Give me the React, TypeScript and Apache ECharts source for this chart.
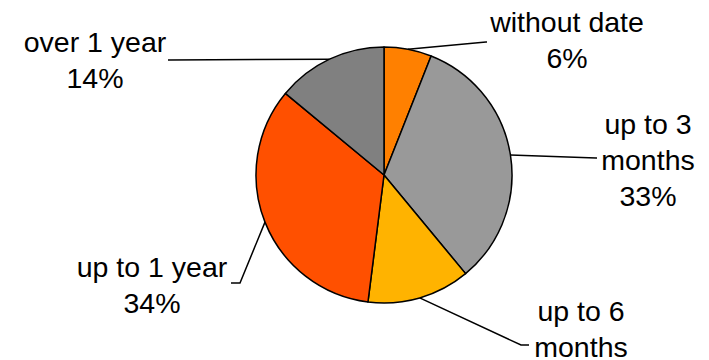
import React, { useEffect, useRef } from "react";
import * as echarts from "echarts";

const categories = ["without date", "up to 3 months", "up to 6 months", "up to 1 year", "over 1 year"];
const labelTexts = ["without date", "up to 3\nmonths", "up to 6\nmonths", "up to 1 year", "over 1 year"];
const shares = [6, 33, 13, 34, 14];
const colors = ["#FF8000", "#999999", "#FFB300", "#FF5000", "#808080"];

// label layout: block centre and leader-line end points (after the pie-edge start point)
const labelLayouts = [
  { x: 567, y: 40, line: [[486, 42], [487, 42]] },
  { x: 648, y: 160, line: [[596, 158], [597, 158]] },
  { x: 581, y: 347, line: [[521, 345], [529, 345]] },
  { x: 152, y: 285, line: [[240, 283], [231, 283]] },
  { x: 95, y: 60, line: [[169, 60], [168, 60]] },
];

export default function App() {
  const ref = useRef<HTMLDivElement>(null);
  useEffect(() => {
    document.body.style.margin = "0";
    const chart = echarts.init(ref.current!, undefined, { renderer: "svg" });
    chart.setOption({
      animation: false,
      backgroundColor: "#ffffff",
      series: [
        {
          type: "pie",
          center: [384, 175],
          radius: 128,
          startAngle: 90,
          clockwise: true,
          avoidLabelOverlap: false,
          percentPrecision: 0,
          data: categories.map((c, i) => ({
            name: c,
            value: shares[i],
            itemStyle: { color: colors[i] },
          })),
          itemStyle: { borderColor: "#000000", borderWidth: 1.5 },
          emphasis: { disabled: true },
          label: {
            show: true,
            formatter: (p: any) => `${labelTexts[p.dataIndex]}\n${p.percent}%`,
            fontFamily: "Liberation Sans, Arial, sans-serif",
            fontSize: 28.5,
            lineHeight: 36,
            color: "#000000",
            align: "center",
          },
          labelLine: {
            show: true,
            lineStyle: { color: "#000000", width: 1.5 },
          },
          labelLayout: (params: any) => {
            const l = labelLayouts[params.dataIndex];
            const start = params.labelLinePoints ? params.labelLinePoints[0] : l.line[0];
            return {
              x: l.x,
              y: l.y,
              align: "center",
              verticalAlign: "middle",
              labelLinePoints: [start, l.line[0], l.line[1]],
            };
          },
        },
      ],
    });
    return () => chart.dispose();
  }, []);
  return <div ref={ref} style={{ width: 709, height: 360 }} />;
}
